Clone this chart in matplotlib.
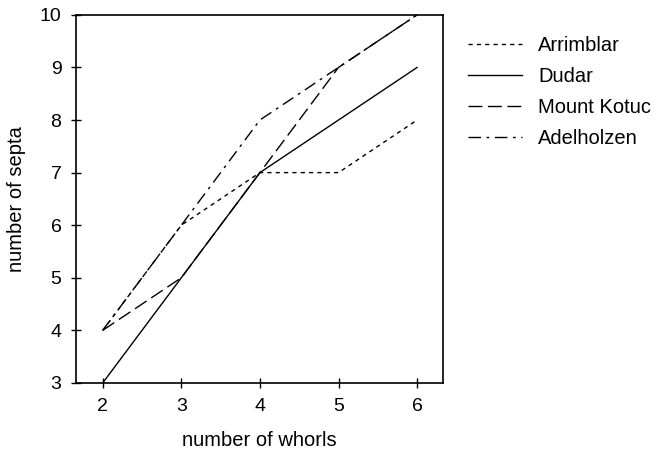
import matplotlib.pyplot as plt

plt.rcParams['font.family'] = ['Liberation Sans', 'DejaVu Sans']

whorls = [2, 3, 4, 5, 6]
arrimblar = [4, 6, 7, 7, 8]
dudar = [3, 5, 7, 8, 9]
mount_kotuc = [4, 5, 7, 9, 10]
adelholzen = [4, 6, 8, 9, 10]

fig = plt.figure(figsize=(6.59, 4.5), dpi=100)
ax = fig.add_axes([0.1153, 0.149, 0.557, 0.818])

ax.plot(whorls, arrimblar, color='black', lw=1.0, linestyle=(0, (3, 3)), label='Arrimblar')
ax.plot(whorls, dudar, color='black', lw=1.0, linestyle='-', label='Dudar')
ax.plot(whorls, mount_kotuc, color='black', lw=1.0, linestyle=(0, (10, 4)), label='Mount Kotuc')
ax.plot(whorls, adelholzen, color='black', lw=1.0, linestyle=(0, (9, 4, 2, 4)), label='Adelholzen')

ax.set_xlim(1.66, 6.33)
ax.set_ylim(3, 10)
ax.set_xticks(whorls)
ax.set_yticks(range(3, 11))
ax.tick_params(direction='inout', length=7, width=1, labelsize=14, pad=7)
for s in ax.spines.values():
    s.set_linewidth(1.2)

ax.set_xlabel('number of whorls', fontsize=14.5, labelpad=12)
ax.set_ylabel('number of septa', fontsize=14.5, labelpad=10)

ax.legend(loc='upper left', bbox_to_anchor=(1.018, 0.993), frameon=False,
          fontsize=14.5, handlelength=2.7, labelspacing=0.6, handletextpad=0.8)

fig.savefig('out.png', dpi=100)
